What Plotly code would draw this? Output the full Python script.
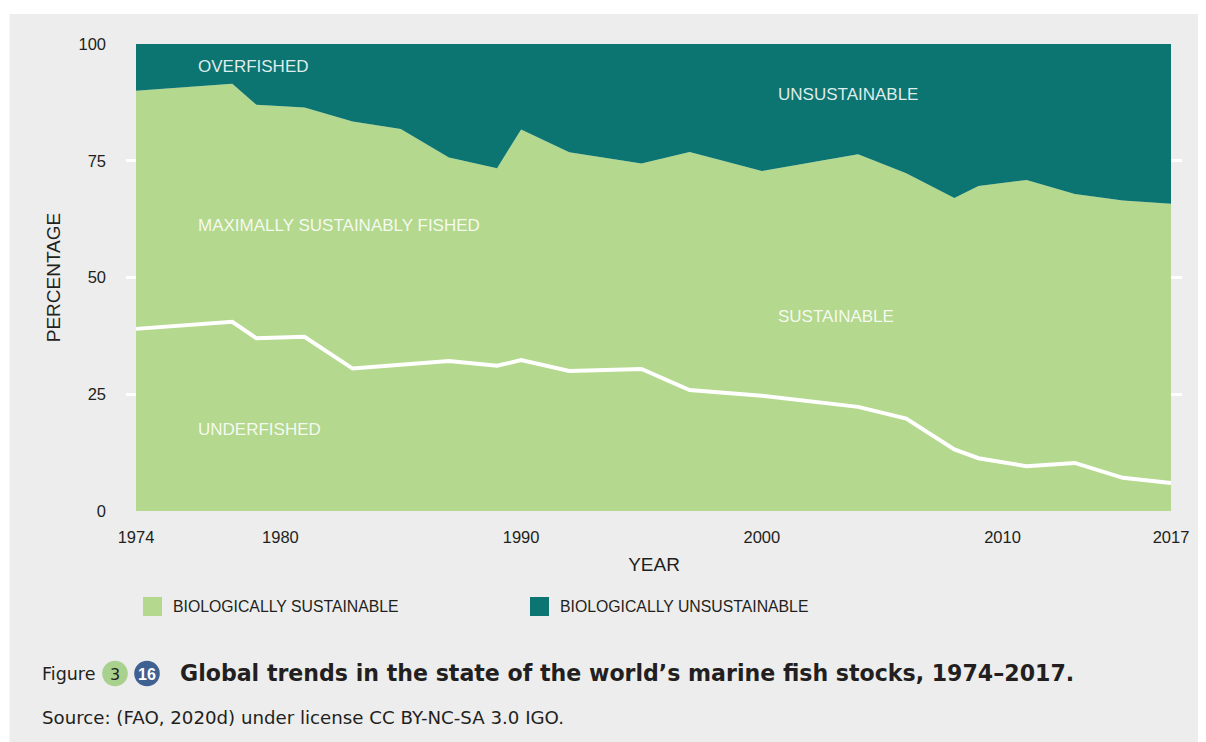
import plotly.graph_objects as go

# ---------------- data ----------------
years = [1974, 1978, 1979, 1981, 1983, 1985, 1987, 1989, 1990, 1992, 1995,
         1997, 2000, 2004, 2006, 2008, 2009, 2011, 2013, 2015, 2017]
sustainable = [90.0, 91.5, 87.0, 86.4, 83.4, 81.8, 75.7, 73.4, 81.7, 76.8, 74.4,
               76.9, 72.8, 76.4, 72.3, 67.0, 69.6, 70.9, 67.9, 66.5, 65.8]
underfished = [39.0, 40.5, 37.0, 37.3, 30.5, 31.3, 32.1, 31.1, 32.3, 30.0, 30.4,
               25.9, 24.7, 22.3, 19.8, 13.2, 11.3, 9.6, 10.3, 7.1, 6.0]
unsustainable = [round(100 - s, 1) for s in sustainable]

x_ticks = [1974, 1980, 1990, 2000, 2010, 2017]
y_ticks = [0, 25, 50, 75, 100]

legend_labels = ["BIOLOGICALLY SUSTAINABLE", "BIOLOGICALLY UNSUSTAINABLE"]
area_labels = ["OVERFISHED", "UNSUSTAINABLE", "MAXIMALLY SUSTAINABLY FISHED",
               "SUSTAINABLE", "UNDERFISHED"]

GREEN = "#B4D88D"
TEAL = "#0C7571"
PANEL = "#EDEDED"
INK = "#231F20"
FONT = "Liberation Sans, Arial, Helvetica, sans-serif"
CAPFONT = "DejaVu Sans, Liberation Sans, sans-serif"

# ---------------- layout geometry (page pixels) ----------------
OFF = 8                                   # page body margin
PAGE_W, PAGE_H = 1206, 742
W, H = PAGE_W - OFF, PAGE_H - OFF
L, R, T, B = 126, 1182, 44, 511           # plot domain (page px)
X0PX, X1PX = 136, 1171                    # page px of first / last year
ppy = (X1PX - X0PX) / (years[-1] - years[0])
xr = [years[0] - (X0PX - L) / ppy, years[-1] + (R - X1PX) / ppy]


def px(x):
    return (x - L) / (R - L)


def py(y):
    return (B - y) / (B - T)


fig = go.Figure()

fig.add_trace(go.Scatter(
    x=years, y=sustainable, stackgroup="one", mode="lines",
    line=dict(width=0, color=GREEN), fillcolor=GREEN,
    name=legend_labels[0], showlegend=False))
fig.add_trace(go.Scatter(
    x=years, y=unsustainable, stackgroup="one", mode="lines",
    line=dict(width=0, color=TEAL), fillcolor=TEAL,
    name=legend_labels[1], showlegend=False))
fig.add_trace(go.Scatter(
    x=years, y=underfished, mode="lines",
    line=dict(width=4, color="white"), name="Underfished", showlegend=False))

shapes = []
# grey panel
shapes.append(dict(type="rect", xref="paper", yref="paper",
                   x0=px(9.5), x1=px(PAGE_W + 5), y0=py(14), y1=py(PAGE_H + 5),
                   fillcolor=PANEL, line=dict(width=0), layer="below"))
# legend swatches
for sx, col in [(143, GREEN), (530, TEAL)]:
    shapes.append(dict(type="rect", xref="paper", yref="paper",
                       x0=px(sx), x1=px(sx + 19), y0=py(597), y1=py(616),
                       fillcolor=col, line=dict(width=0)))
# caption badges
for cx, col in [(115, "#A9D18E"), (147, "#3F6192")]:
    shapes.append(dict(type="circle", xref="paper", yref="paper",
                       xsizemode="pixel", ysizemode="pixel",
                       xanchor=px(cx), yanchor=py(673.5),
                       x0=-12.8, x1=12.8, y0=-12.8, y1=12.8,
                       fillcolor=col, line=dict(width=0)))

ann = []
lab_color = "rgba(255,255,255,0.88)"
for text, (ax, ay) in zip(area_labels, [(196, 66), (776, 94), (196, 225),
                                        (776, 316), (196, 429)]):
    ann.append(dict(text=text, xref="paper", yref="paper", x=px(ax), y=py(ay),
                    xanchor="left", yanchor="middle", showarrow=False,
                    font=dict(family=FONT, size=17, color=lab_color)))
for text, lx in zip(legend_labels, [171, 558]):
    ann.append(dict(text=text, xref="paper", yref="paper", x=px(lx), y=py(606.5),
                    xanchor="left", yanchor="middle", showarrow=False,
                    font=dict(family=FONT, size=15.8, color=INK)))
ann.append(dict(text="Figure", xref="paper", yref="paper", x=px(40), y=py(674),
                xanchor="left", yanchor="middle", showarrow=False,
                font=dict(family=CAPFONT, size=17.5, color=INK)))
ann.append(dict(text="3", xref="paper", yref="paper", x=px(115), y=py(674),
                xanchor="center", yanchor="middle", showarrow=False,
                font=dict(family=CAPFONT, size=16, color=INK)))
ann.append(dict(text="<b>16</b>", xref="paper", yref="paper", x=px(147), y=py(674),
                xanchor="center", yanchor="middle", showarrow=False,
                font=dict(family=FONT, size=16, color="white")))
ann.append(dict(text="<b>Global trends in the state of the world\u2019s marine fish stocks, 1974\u20132017.</b>",
                xref="paper", yref="paper", x=px(178), y=py(673),
                xanchor="left", yanchor="middle", showarrow=False,
                font=dict(family=CAPFONT, size=22.1, color=INK)))
ann.append(dict(text="Source: (FAO, 2020d) under license CC BY-NC-SA 3.0 IGO.",
                xref="paper", yref="paper", x=px(40), y=py(717),
                xanchor="left", yanchor="middle", showarrow=False,
                font=dict(family=CAPFONT, size=18.2, color=INK)))

fig.update_layout(
    width=W, height=H,
    margin=dict(l=L - OFF, r=PAGE_W - R, t=T - OFF, b=PAGE_H - B, pad=0),
    paper_bgcolor="white", plot_bgcolor="rgba(0,0,0,0)",
    font=dict(family=FONT, color=INK),
    shapes=shapes, annotations=ann, showlegend=False,
    xaxis=dict(range=xr, tickvals=x_ticks, ticktext=[str(v) for v in x_ticks],
               showgrid=False, zeroline=False, showline=False, ticks="",
               ticklabelstandoff=14,
               tickfont=dict(family=FONT, size=16.5, color=INK),
               title=dict(text="YEAR", standoff=13,
                          font=dict(family=FONT, size=19, color=INK))),
    yaxis=dict(range=[0, 100], tickvals=y_ticks,
               showgrid=True, gridcolor="white", gridwidth=3,
               zeroline=False, showline=False, ticks="",
               ticklabelstandoff=19,
               tickfont=dict(family=FONT, size=16.5, color=INK),
               title=dict(text="PERCENTAGE", standoff=12,
                          font=dict(family=FONT, size=19, color=INK))),
)

fig.write_html("out.html")
